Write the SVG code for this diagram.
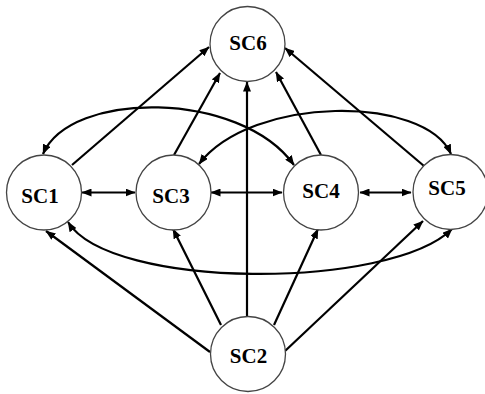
<svg xmlns="http://www.w3.org/2000/svg" width="485" height="394" viewBox="0 0 485 394">
<style>
.node circle{fill:#fff;stroke:#444;stroke-width:1.3}
.node text{font-family:"Liberation Serif","Times New Roman",serif;font-weight:bold;font-size:21px;text-anchor:middle;fill:#000}
.edge{fill:none;stroke:#000;stroke-width:2.2}
.one{marker-end:url(#ah)}
.two{marker-start:url(#ah);marker-end:url(#ah)}
</style>
<defs>
<marker id="ah" markerUnits="userSpaceOnUse" markerWidth="10" markerHeight="8" refX="9.5" refY="4" orient="auto-start-reverse" viewBox="0 0 10 8">
<path d="M0,0 L10,4 L0,8 z" fill="#000"/>
</marker>
</defs>
<rect width="485" height="394" fill="#fff"/>
<g id="connectors">
<line class="edge one" x1="72" y1="165" x2="209" y2="47"/>
<line class="edge one" x1="174" y1="155" x2="220" y2="73"/>
<line class="edge one" x1="247" y1="317" x2="247" y2="82"/>
<line class="edge one" x1="321" y1="155" x2="276" y2="72"/>
<line class="edge one" x1="424" y1="166" x2="285" y2="48"/>
<line class="edge two" x1="82" y1="192.5" x2="135" y2="192.5"/>
<line class="edge two" x1="211" y1="192.5" x2="282" y2="192.5"/>
<line class="edge two" x1="360" y1="192.5" x2="411" y2="192.5"/>
<path class="edge two" d="M43,154 C70,90 240,90 294,165"/>
<path class="edge two" d="M199,164 C252,95 425,95 451,154"/>
<path class="edge two" d="M68,222 C110,290 390,290 452,229"/>
<line class="edge one" x1="210" y1="352" x2="46" y2="231"/>
<line class="edge one" x1="221" y1="325" x2="173" y2="229"/>
<line class="edge one" x1="274" y1="325" x2="318" y2="229"/>
<line class="edge one" x1="285" y1="351" x2="423" y2="221"/>
</g>
<g id="SC6" class="node"><circle cx="247.5" cy="44" r="37.5"/><text x="248" y="50">SC6</text></g>
<g id="SC1" class="node"><circle cx="44" cy="192.5" r="37.5"/><text x="40" y="203">SC1</text></g>
<g id="SC3" class="node"><circle cx="173.5" cy="192.5" r="37.5"/><text x="171" y="203">SC3</text></g>
<g id="SC4" class="node"><circle cx="321" cy="192.5" r="37.5"/><text x="321" y="198">SC4</text></g>
<g id="SC5" class="node"><circle cx="450.5" cy="192" r="37.5"/><text x="447" y="195">SC5</text></g>
<g id="SC2" class="node"><circle cx="248" cy="354" r="37.5"/><text x="248.5" y="363">SC2</text></g>
</svg>
